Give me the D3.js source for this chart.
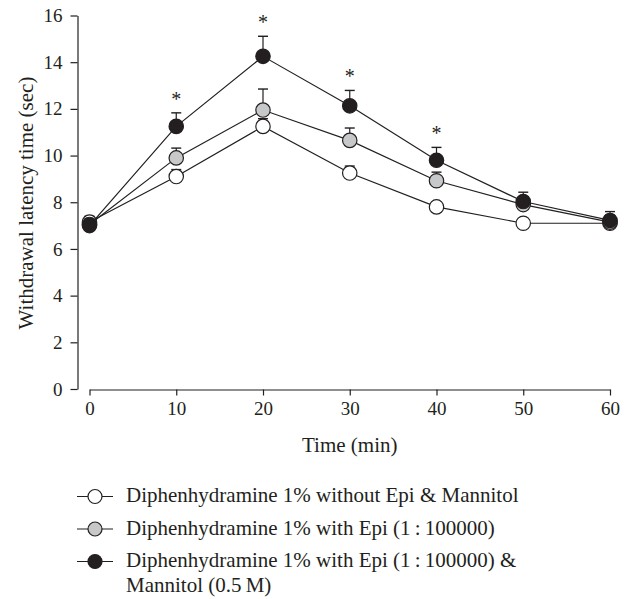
<!DOCTYPE html>
<html>
<head>
<meta charset="utf-8">
<script src="https://cdn.jsdelivr.net/npm/d3@7"></script>
<style>
  body { margin: 0; background: #fff; }
  text { font-family: "Liberation Serif", "DejaVu Serif", serif; fill: #231f20; }
</style>
</head>
<body>
<div id="chart"></div>
<script>
const times = [0, 10, 20, 30, 40, 50, 60];
const yTicks = [0, 2, 4, 6, 8, 10, 12, 14, 16];

// mean withdrawal latency (sec) and upper error
const noEpi = [7.15, 9.1, 11.25, 9.25, 7.8, 7.1, 7.1];
const noEpiErr = [0.25, 0.3, 0.33, 0.3, 0.2, 0.1, 0.1];
const withEpi = [7.05, 9.9, 11.95, 10.65, 8.92, 7.9, 7.15];
const withEpiErr = [0.2, 0.42, 0.9, 0.53, 0.37, 0.3, 0.3];
const epiMannitol = [7.0, 11.25, 14.25, 12.13, 9.8, 8.03, 7.22];
const epiMannitolErr = [0.3, 0.58, 0.86, 0.66, 0.55, 0.4, 0.38];

const significant = [10, 20, 30, 40];

const seriesNames = [
    "Diphenhydramine 1% without Epi & Mannitol",
    "Diphenhydramine 1% with Epi (1\u2009:\u2009100000)",
    "Diphenhydramine 1% with Epi (1\u2009:\u2009100000) &"
];
const fills = ["#ffffff", "#c7c8ca", "#231f20"];

const series = [
    { name: seriesNames[0], values: noEpi, err: noEpiErr, fill: fills[0] },
    { name: seriesNames[1], values: withEpi, err: withEpiErr, fill: fills[1] },
    { name: seriesNames[2], values: epiMannitol, err: epiMannitolErr, fill: fills[2] }
];

const width = 632;
const height = 599;
const ink = "#231f20";

const svg = d3.select("#chart")
    .append("svg")
    .attr("width", width)
    .attr("height", height);

const x = d3.scaleLinear().domain([0, 60]).range([89.5, 610]);
const y = d3.scaleLinear().domain([0, 16]).range([389, 15.5]);

// axes
const yAxis = svg.append("g")
    .attr("transform", "translate(77.5,0)")
    .call(d3.axisLeft(y).tickValues(yTicks).tickSize(7).tickSizeOuter(0).tickPadding(8));

const xAxis = svg.append("g")
    .attr("transform", "translate(0,389.5)")
    .call(d3.axisBottom(x).tickValues(times).tickSize(6).tickSizeOuter(0).tickPadding(6));

[yAxis, xAxis].forEach(g => {
    g.attr("font-family", null).attr("font-size", null);
    g.selectAll("path, line").attr("stroke", ink).attr("stroke-width", 1.2);
    g.selectAll("text").style("font-size", "19px").attr("fill", ink);
});

svg.append("text")
    .attr("x", x(30))
    .attr("y", 452)
    .attr("text-anchor", "middle")
    .style("font-size", "21px")
    .text("Time (min)");

svg.append("text")
    .attr("transform", "translate(33,203) rotate(-90)")
    .attr("text-anchor", "middle")
    .style("font-size", "21px")
    .text("Withdrawal latency time (sec)");

const line = d3.line()
    .x((d, i) => x(times[i]))
    .y(d => y(d));

series.forEach(s => {
    const g = svg.append("g");

    g.append("path")
        .datum(s.values)
        .attr("d", line)
        .attr("fill", "none")
        .attr("stroke", ink)
        .attr("stroke-width", 1.2);

    const pts = times.map((t, i) => ({ t, v: s.values[i], e: s.err[i] }));

    g.selectAll(".err")
        .data(pts)
        .join("line")
        .attr("x1", d => x(d.t))
        .attr("x2", d => x(d.t))
        .attr("y1", d => y(d.v))
        .attr("y2", d => y(d.v + d.e))
        .attr("stroke", ink)
        .attr("stroke-width", 1.2);

    g.selectAll(".cap")
        .data(pts)
        .join("line")
        .attr("x1", d => x(d.t) - 5)
        .attr("x2", d => x(d.t) + 5)
        .attr("y1", d => y(d.v + d.e))
        .attr("y2", d => y(d.v + d.e))
        .attr("stroke", ink)
        .attr("stroke-width", 1.4);

    g.selectAll("circle")
        .data(pts)
        .join("circle")
        .attr("cx", d => x(d.t))
        .attr("cy", d => y(d.v))
        .attr("r", 7.2)
        .attr("fill", s.fill)
        .attr("stroke", ink)
        .attr("stroke-width", 1.2);
});

// significance markers above the Epi + Mannitol series
svg.append("g")
    .selectAll("text")
    .data(significant)
    .join("text")
    .attr("x", d => x(d))
    .attr("y", d => {
        const i = times.indexOf(d);
        return y(epiMannitol[i] + epiMannitolErr[i]) - 7;
    })
    .attr("text-anchor", "middle")
    .style("font-size", "20px")
    .attr("fill", "#3a3a3a")
    .text("*");

// legend
const legend = svg.append("g");
const rowY = [496.5, 529, 561.5];

series.forEach((s, i) => {
    const g = legend.append("g").attr("transform", `translate(0,${rowY[i]})`);
    g.append("line")
        .attr("x1", 77).attr("x2", 113)
        .attr("stroke", ink).attr("stroke-width", 1.2);
    g.append("circle")
        .attr("cx", 95).attr("r", 7)
        .attr("fill", s.fill)
        .attr("stroke", ink).attr("stroke-width", 1.2);
    g.append("text")
        .attr("x", 126)
        .attr("y", 5.5)
        .style("font-size", "21px")
        .text(s.name);
});

legend.append("text")
    .attr("x", 126)
    .attr("y", 592)
    .style("font-size", "21px")
    .text("Mannitol (0.5\u2009M)");
</script>
</body>
</html>
